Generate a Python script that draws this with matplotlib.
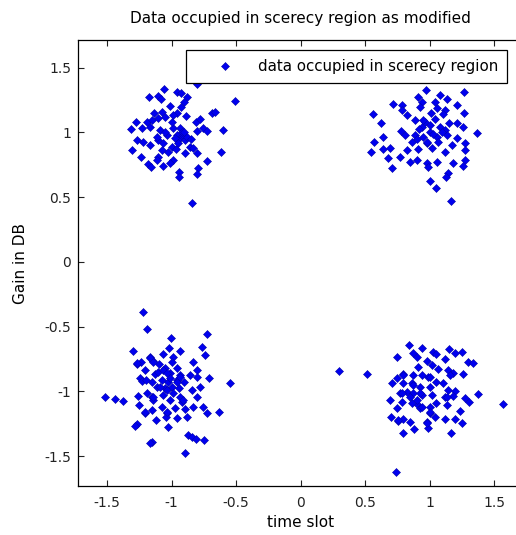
import numpy as np
import matplotlib
matplotlib.use("Agg")
import matplotlib.pyplot as plt

# values, one cluster per quadrant
x_top_left = [-0.80, -1.058, -1.172, -1.102, -1.084, -0.955, -0.929, -0.882, -0.903, -0.505,
              -1.012, -0.929, -1.133, -1.076, -0.955, -0.888, -0.684, -0.663, -1.275, -1.192,
              -1.153, -1.102, -1.050, -0.986, -0.810, -0.779, -1.316, -1.231, -1.167, -1.089,
              -0.991, -0.934, -0.753, -0.722, -0.598, -0.803, -0.934, -0.960, -0.908, -0.947,
              -0.895, -0.882, -0.921, -0.973, -1.270, -1.223, -1.167, -1.102, -1.063, -0.998,
              -1.115, -1.037, -1.309, -1.076, -1.025, -0.965, -0.857, -0.831, -0.619, -1.239,
              -1.102, -1.115, -0.986, -1.012, -0.895, -0.805, -0.727, -1.180, -1.161, -1.068,
              -0.940, -0.940, -0.795, -0.805, -0.843,
              -1.000, -0.900, -0.950, -1.050, -0.850]
y_top_left = [1.375, 1.336, 1.276, 1.282, 1.259, 1.310, 1.302, 1.276, 1.238, 1.243,
              1.207, 1.195, 1.153, 1.161, 1.153, 1.127, 1.148, 1.161, 1.083, 1.083,
              1.097, 1.109, 1.122, 1.135, 1.083, 1.102, 1.027, 1.032, 1.045, 1.019,
              1.032, 1.032, 1.032, 1.014, 1.019, 1.012, 0.968, 0.981, 0.981, 0.942,
              0.942, 0.968, 1.006, 0.955, 0.942, 0.929, 0.903, 0.942, 0.917, 0.886,
              0.968, 0.981, 0.865, 0.865, 0.852, 0.870, 0.890, 0.878, 0.852, 0.813,
              0.813, 0.788, 0.788, 0.762, 0.839, 0.839, 0.780, 0.757, 0.736, 0.741,
              0.697, 0.659, 0.724, 0.680, 0.458,
              1.080, 1.000, 0.920, 1.000, 0.950]

x_top_right = [0.973, 1.267, 1.081, 0.913, 0.939, 1.043, 1.138, 0.719, 0.784, 0.926,
               1.056, 1.216, 0.784, 1.120, 0.560, 0.823, 1.009, 1.107, 1.267, 0.888,
               0.965, 1.043, 0.622, 1.153, 1.211, 1.262, 0.939, 1.081, 1.120, 0.779,
               1.366, 1.004, 0.642, 0.810, 0.888, 0.952, 1.056, 1.133, 1.211, 0.570,
               0.862, 0.978, 1.068, 1.172, 1.275, 0.642, 0.694, 0.823, 0.913, 1.017,
               1.120, 0.544, 1.275, 0.681, 0.771, 0.849, 0.900, 0.983, 1.056, 1.185,
               1.275, 1.262, 0.707, 0.990, 1.146, 1.128, 1.004, 1.050, 1.164,
               0.950, 1.000, 0.920, 1.030, 0.980, 0.900, 1.100]
y_top_right = [1.328, 1.315, 1.290, 1.272, 1.238, 1.238, 1.256, 1.218, 1.212, 1.199,
               1.187, 1.212, 1.174, 1.174, 1.143, 1.135, 1.153, 1.143, 1.148, 1.097,
               1.083, 1.102, 1.076, 1.076, 1.076, 1.045, 1.045, 1.045, 1.019, 1.012,
               0.994, 1.006, 0.968, 0.981, 0.981, 0.968, 0.968, 0.981, 0.955, 0.929,
               0.929, 0.921, 0.929, 0.903, 0.917, 0.870, 0.878, 0.865, 0.870, 0.878,
               0.852, 0.852, 0.865, 0.801, 0.813, 0.775, 0.788, 0.762, 0.775, 0.762,
               0.788, 0.741, 0.724, 0.736, 0.685, 0.659, 0.628, 0.574, 0.471,
               1.100, 1.060, 1.030, 0.990, 0.930, 0.950, 1.000]

x_bottom_left = [-1.219, -1.192, -0.727, -1.004, -1.301, -1.017, -0.934, -0.766, -0.740, -1.167,
                 -1.068, -0.986, -1.141, -1.270, -1.239, -1.094, -0.998, -0.831, -1.205, -1.050,
                 -0.955, -0.800, -1.128, -1.102, -1.012, -0.934, -0.857, -1.244, -1.231, -1.153,
                 -1.076, -1.025, -0.955, -0.903, -0.800, -0.707, -0.547, -1.115, -1.050, -0.998,
                 -0.940, -0.843, -0.777, -1.188, -1.257, -1.153, -1.068, -0.934, -1.516, -1.438,
                 -1.374, -1.141, -1.012, -0.800, -1.250, -0.921, -1.076, -0.973, -0.895, -0.831,
                 -0.753, -1.153, -1.205, -1.032, -0.727, -0.629, -1.043, -0.960, -0.882, -1.120,
                 -1.270, -1.283, -1.025, -0.870, -0.843, -0.810, -0.748, -1.153, -1.167, -0.895,
                 -1.167, -1.141, -1.063, -1.037, -1.012, -0.960, -0.934, -1.089, -1.141, -1.037,
                 -0.986, -0.908, -1.205, -1.037, -1.270, -1.198]
y_bottom_left = [-0.389, -0.517, -0.556, -0.589, -0.685, -0.667, -0.685, -0.654, -0.718, -0.736,
                 -0.713, -0.731, -0.762, -0.788, -0.770, -0.788, -0.770, -0.770, -0.834, -0.821,
                 -0.821, -0.834, -0.865, -0.847, -0.860, -0.873, -0.873, -0.898, -0.917, -0.925,
                 -0.911, -0.925, -0.911, -0.925, -0.890, -0.893, -0.937, -0.963, -0.975, -0.968,
                 -0.975, -0.988, -0.968, -1.009, -1.035, -1.040, -1.027, -1.040, -1.045, -1.060,
                 -1.073, -1.066, -1.066, -1.045, -1.104, -1.079, -1.122, -1.130, -1.138, -1.122,
                 -1.117, -1.143, -1.168, -1.164, -1.164, -1.161, -1.195, -1.207, -1.199, -1.220,
                 -1.251, -1.264, -1.277, -1.336, -1.349, -1.369, -1.375, -1.388, -1.400, -1.477,
                 -0.744, -0.770, -0.834, -0.859, -0.898, -0.924, -0.886, -0.963, -1.040, -0.988,
                 -1.014, -1.066, -1.156, -1.156, -0.782, -0.911]

x_bottom_right = [0.301, 0.518, 0.843, 0.939, 0.874, 0.901, 1.029, 1.050, 1.151, 1.198,
                  1.249, 0.750, 0.978, 1.120, 1.301, 1.340, 0.913, 1.017, 1.068, 1.146,
                  1.180, 1.262, 0.797, 0.746, 0.874, 0.939, 0.991, 1.050, 0.707, 0.797,
                  0.862, 0.926, 1.004, 1.107, 1.146, 1.198, 0.823, 0.771, 0.874, 0.939,
                  1.017, 1.120, 1.185, 1.275, 1.378, 1.567, 0.694, 0.788, 0.862, 0.913,
                  0.926, 1.004, 1.050, 1.133, 1.309, 0.746, 1.236, 1.004, 1.043, 0.700,
                  0.759, 0.797, 0.849, 0.978, 1.120, 1.198, 1.249, 0.991, 0.880, 0.792,
                  1.164, 0.740,
                  0.797, 0.874, 0.849, 0.901, 0.926, 0.940, 1.004, 1.004, 0.784, 1.133,
                  1.159, 0.758, 0.978]
y_bottom_right = [-0.842, -0.865, -0.641, -0.662, -0.705, -0.731, -0.693, -0.710, -0.672, -0.705,
                  -0.697, -0.736, -0.762, -0.752, -0.770, -0.778, -0.808, -0.795, -0.829, -0.834,
                  -0.855, -0.867, -0.865, -0.898, -0.873, -0.873, -0.886, -0.924, -0.937, -0.937,
                  -0.937, -0.963, -0.963, -0.937, -0.988, -0.994, -1.001, -1.014, -1.014, -1.027,
                  -1.027, -1.040, -1.035, -1.052, -1.022, -1.096, -1.066, -1.079, -1.091, -1.104,
                  -1.130, -1.122, -1.091, -1.104, -1.079, -1.130, -1.148, -1.168, -1.199, -1.199,
                  -1.225, -1.215, -1.233, -1.233, -1.215, -1.215, -1.245, -1.284, -1.292, -1.323,
                  -1.323, -1.619,
                  -0.873, -0.950, -1.040, -1.066, -1.014, -1.117, -0.886, -1.156, -1.014, -1.040,
                  -0.873, -1.220, -1.245]

xticks = [-1.5, -1, -0.5, 0, 0.5, 1, 1.5]
yticks = [-1.5, -1, -0.5, 0, 0.5, 1, 1.5]

x = np.concatenate([x_top_left, x_top_right, x_bottom_left, x_bottom_right])
y = np.concatenate([y_top_left, y_top_right, y_bottom_left, y_bottom_right])

plt.rcParams['font.family'] = ['DejaVu Sans']
fig = plt.figure(figsize=(5.16, 5.35), dpi=100)
# the reference's right frame edge runs past the picture edge
ax = fig.add_axes([0.1512, 0.0916, 0.8624, 0.8336])
ax.plot(x, y, 'D', color='#0000ee', markersize=3.6, markeredgewidth=0.4,
        markeredgecolor='#0000aa', label='data occupied in scerecy region')
ax.set_xlim(-1.725, 1.725)
ax.set_ylim(-1.73, 1.714)
ax.set_xticks(xticks)
ax.set_yticks(yticks)
ax.set_xticklabels(['%g' % t for t in xticks])
ax.set_yticklabels(['%g' % t for t in yticks])
ax.tick_params(direction='in', top=True, right=True, length=4, labelsize=10,
               colors='#222222', pad=5)
ax.tick_params(axis='x', pad=7)
for s in ax.spines.values():
    s.set_linewidth(0.9)
ax.set_xlabel('time slot', fontsize=11, labelpad=4)
ax.set_ylabel('Gain in DB', fontsize=11, labelpad=12)
ax.set_title('Data occupied in scerecy region as modified', fontsize=11, pad=12)
leg = ax.legend(loc='upper right', bbox_to_anchor=(0.964, 0.978), borderaxespad=0,
                fontsize=10.8, fancybox=False, framealpha=1, edgecolor='black',
                borderpad=0.6, handletextpad=0.2, handlelength=4.0, markerscale=1.0)
leg.get_frame().set_linewidth(0.9)
fig.savefig('out.png', dpi=100)
plt.close()
